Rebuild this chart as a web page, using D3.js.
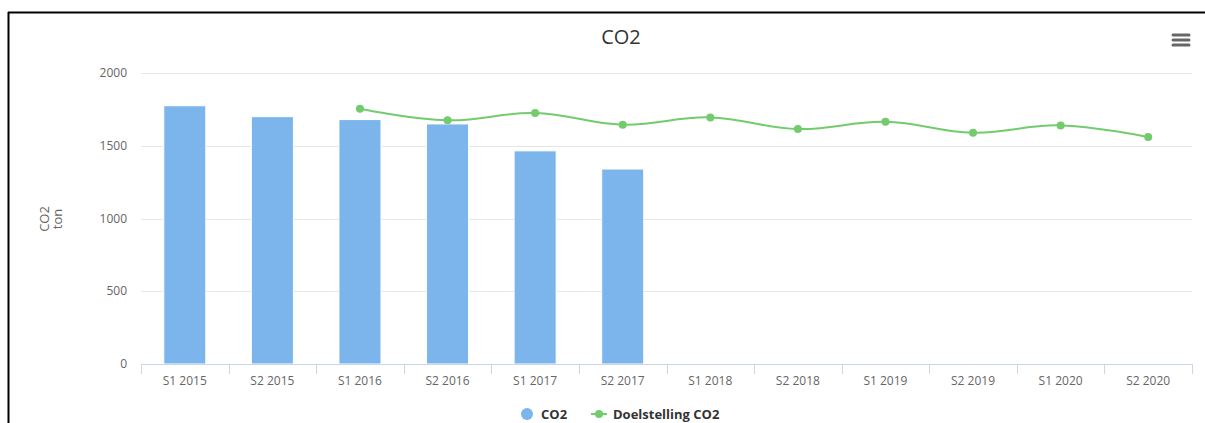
<!DOCTYPE html>
<html>
<head>
<meta charset="utf-8">
<script src="https://cdn.jsdelivr.net/npm/d3@7"></script>
<style>
  body { margin: 0; background: #fff; }
  svg { display: block; font-family: "Open Sans", "DejaVu Sans", sans-serif; }
</style>
</head>
<body>
<svg></svg>
<script>
var width = 1205;
var height = 423;
var svg = d3.select("svg").attr("width", width).attr("height", height);

// data
var categories = ["S1 2015", "S2 2015", "S1 2016", "S2 2016", "S1 2017", "S2 2017",
                  "S1 2018", "S2 2018", "S1 2019", "S2 2019", "S1 2020", "S2 2020"];
var co2 = [1775, 1700, 1680, 1650, 1465, 1340, null, null, null, null, null, null];
var doelstelling = [null, null, 1755, 1675, 1725, 1645, 1695, 1615, 1665, 1590, 1640, 1560];
var yTicks = [0, 500, 1000, 1500, 2000];

var margin = {top: 73, right: 13, bottom: 59, left: 141};
var plotW = width - margin.left - margin.right,
    plotH = height - margin.top - margin.bottom;

var xScale = d3.scaleBand().domain(categories).range([0, plotW]);
var yScale = d3.scaleLinear().domain([0, 2000]).range([plotH, 0]);

// outer frame (top + left)
svg.append("path")
    .attr("d", "M8,12.5H1205M8.5,12V423")
    .attr("stroke", "#000").attr("stroke-width", 2).attr("fill", "none");

// title
svg.append("text")
    .attr("x", 621).attr("y", 44)
    .attr("text-anchor", "middle")
    .attr("fill", "#333").style("font-size", "20px")
    .text("CO2");

// menu icon
[0, 5, 10].forEach(function(d) {
  svg.append("line")
      .attr("x1", 1173).attr("x2", 1189)
      .attr("y1", 35 + d).attr("y2", 35 + d)
      .attr("stroke", "#666").attr("stroke-width", 3).attr("stroke-linecap", "round");
});

var g = svg.append("g").attr("transform", "translate(" + margin.left + "," + margin.top + ")");

// grid lines
g.selectAll(".grid").data(yTicks.filter(function(d) { return d > 0; }))
  .enter().append("line")
    .attr("x1", 0).attr("x2", plotW)
    .attr("y1", function(d) { return Math.round(yScale(d)) + 0.5; })
    .attr("y2", function(d) { return Math.round(yScale(d)) + 0.5; })
    .attr("stroke", "#e6e6e6");

// y labels
g.selectAll(".ylab").data(yTicks)
  .enter().append("text")
    .attr("x", -14).attr("y", function(d) { return yScale(d) + 4; })
    .attr("text-anchor", "end")
    .attr("fill", "#666").style("font-size", "12px")
    .text(function(d) { return d; });

// y title
var yt = svg.append("text")
    .attr("transform", "translate(51,219) rotate(-90)")
    .attr("text-anchor", "middle")
    .attr("fill", "#666").style("font-size", "13px");
yt.append("tspan").attr("x", 0).attr("dy", "-0.15em").text("CO2");
yt.append("tspan").attr("x", 0).attr("dy", "1.0em").text("ton");

// bars
var barW = xScale.bandwidth() * 0.6 * 0.8;
g.selectAll(".bar").data(categories.map(function(c, i) { return {c: c, v: co2[i]}; })
    .filter(function(d) { return d.v != null; }))
  .enter().append("rect")
    .attr("x", function(d) { return xScale(d.c) + (xScale.bandwidth() - barW) / 2; })
    .attr("y", function(d) { return yScale(d.v); })
    .attr("width", barW)
    .attr("height", function(d) { return plotH - yScale(d.v); })
    .attr("fill", "#7cb5ec")
    .attr("stroke", "#fff").attr("stroke-width", 1);

// x axis
g.append("line")
    .attr("x1", 0).attr("x2", plotW)
    .attr("y1", plotH + 0.5).attr("y2", plotH + 0.5)
    .attr("stroke", "#ccd6eb");
g.selectAll(".xtick").data(categories.concat(["end"]))
  .enter().append("line")
    .attr("x1", function(d, i) { return Math.round(i * xScale.bandwidth()) + 0.5; })
    .attr("x2", function(d, i) { return Math.round(i * xScale.bandwidth()) + 0.5; })
    .attr("y1", plotH).attr("y2", plotH + 10)
    .attr("stroke", "#ccd6eb");
g.selectAll(".xlab").data(categories)
  .enter().append("text")
    .attr("x", function(d) { return xScale(d) + xScale.bandwidth() / 2; })
    .attr("y", plotH + 21)
    .attr("text-anchor", "middle")
    .attr("fill", "#666").style("font-size", "12px")
    .text(function(d) { return d; });

// target spline
var pts = categories.map(function(c, i) { return {c: c, v: doelstelling[i]}; })
    .filter(function(d) { return d.v != null; });
var line = d3.line()
    .x(function(d) { return xScale(d.c) + xScale.bandwidth() / 2; })
    .y(function(d) { return yScale(d.v); })
    .curve(d3.curveCardinal.tension(-0.2));
var green = "#72cc6e";
g.append("path").datum(pts)
    .attr("d", line)
    .attr("fill", "none").attr("stroke", green).attr("stroke-width", 2);
g.selectAll(".dot").data(pts)
  .enter().append("circle")
    .attr("cx", function(d) { return xScale(d.c) + xScale.bandwidth() / 2; })
    .attr("cy", function(d) { return yScale(d.v); })
    .attr("r", 4)
    .attr("fill", green);

// legend
var lg = svg.append("g").attr("transform", "translate(0,414)");
lg.append("circle").attr("cx", 527).attr("cy", 0).attr("r", 6).attr("fill", "#7cb5ec");
lg.append("text").attr("x", 541).attr("y", 5)
    .attr("fill", "#333").style("font-size", "13px").style("font-weight", "bold")
    .text("CO2");
lg.append("line").attr("x1", 591).attr("x2", 607).attr("y1", 0).attr("y2", 0)
    .attr("stroke", green).attr("stroke-width", 2);
lg.append("circle").attr("cx", 599).attr("cy", 0).attr("r", 4).attr("fill", green);
lg.append("text").attr("x", 613).attr("y", 5)
    .attr("fill", "#333").style("font-size", "13px").style("font-weight", "bold")
    .text("Doelstelling CO2");
</script>
</body>
</html>
